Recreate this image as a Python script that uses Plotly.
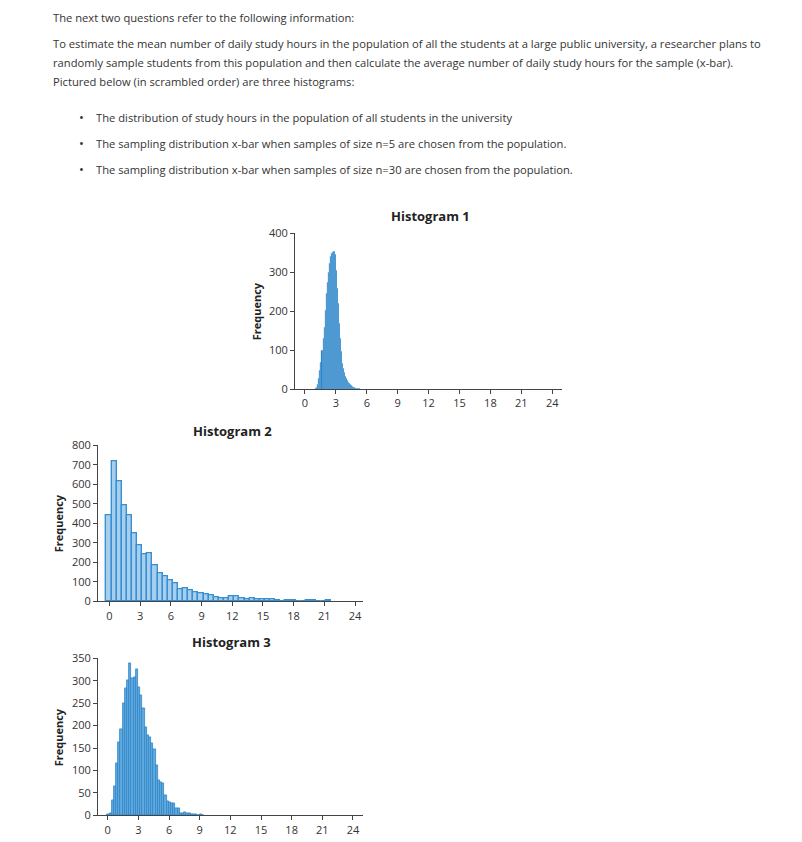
import numpy as np
import plotly.graph_objects as go

# page geometry: body margin offsets the figure; the photo is rescaled vertically
OFF_X = 8
OFF_Y = 15.0
SCALE_Y = 0.982
W, H = 786, 836

# ---------------- data ----------------
x_ticks = [0, 3, 6, 9, 12, 15, 18, 21, 24]

# Histogram 1 (narrow, n=30 sampling distribution)
h1_bin_start = 1.0
h1_bin_width = 0.1
h1_counts = [2, 5, 12, 28, 48, 70, 100, 130, 160, 203, 245, 275, 300, 322, 340,
             350, 352, 355, 354, 345, 305, 260, 220, 170, 130, 98, 66, 55, 44, 34,
             29, 24, 19, 15, 12, 10, 8, 6, 5, 3, 3, 2, 2, 1, 1]
h1_yticks = [0, 100, 200, 300, 400]

# Histogram 2 (population, right skewed)
h2_bin_start = -0.3
h2_bin_width = 0.5
h2_counts = [439, 720, 614, 492, 443, 347, 285, 241, 244, 185, 145, 128, 108, 91,
             62, 67, 58, 46, 43, 36, 32, 22, 17, 15, 24, 24, 14, 12, 15, 10, 9, 9,
             8, 5, 2, 3, 3, 1, 0, 3, 3, 1, 1, 3]
h2_yticks = [0, 100, 200, 300, 400, 500, 600, 700, 800]

# Histogram 3 (n=5 sampling distribution)
h3_bin_start = -0.04
h3_bin_width = 0.215
h3_counts = [2, 4, 33, 65, 115, 162, 191, 249, 284, 301, 339, 305, 307, 325, 285,
             267, 238, 197, 179, 173, 160, 147, 112, 78, 74, 71, 45, 32, 28, 27,
             26, 15, 15, 5, 4, 7, 4, 4, 3, 3, 2, 1, 2, 1]
h3_yticks = [0, 50, 100, 150, 200, 250, 300, 350]

intro_lines = [
    "The next two questions refer to the following information:",
    "To estimate the mean number of daily study hours in the population of all the students at a large public university, a researcher plans to",
    "randomly sample students from this population and then calculate the average number of daily study hours for the sample (x-bar).",
    "Pictured below (in scrambled order) are three histograms:",
]
bullets = [
    "The distribution of study hours in the population of all students in the university",
    "The sampling distribution x-bar when samples of size n=5 are chosen from the population.",
    "The sampling distribution x-bar when samples of size n=30 are chosen from the population.",
]
titles = ["Histogram 1", "Histogram 2", "Histogram 3"]

# ---------------- figure ----------------
def px_x(p):
    return (p - OFF_X) / W

def px_y(p):
    return 1 - (p / SCALE_Y - OFF_Y) / H

def centers(start, width, counts):
    return start + width * (np.arange(len(counts)) + 0.5)

fig = go.Figure()

fig.add_trace(go.Bar(
    x=centers(h1_bin_start, h1_bin_width, h1_counts), y=h1_counts, width=h1_bin_width,
    marker=dict(color="#2783cb", line=dict(color="rgba(255,255,255,0.25)", width=0.25)),
    xaxis="x", yaxis="y", showlegend=False, hoverinfo="x+y"))

fig.add_trace(go.Bar(
    x=centers(h2_bin_start, h2_bin_width, h2_counts), y=h2_counts, width=h2_bin_width,
    marker=dict(color="#a6cfee", line=dict(color="#3a8fd2", width=1.4)),
    xaxis="x2", yaxis="y2", showlegend=False, hoverinfo="x+y"))

fig.add_trace(go.Bar(
    x=centers(h3_bin_start, h3_bin_width, h3_counts), y=h3_counts, width=h3_bin_width,
    marker=dict(color="#62a9de", line=dict(color="#2f86c8", width=0.8)),
    xaxis="x3", yaxis="y3", showlegend=False, hoverinfo="x+y"))

axis_common = dict(showline=True, linecolor="#444", linewidth=1, ticks="outside",
                   ticklen=4, tickcolor="#444", showgrid=False, zeroline=False,
                   tickfont=dict(family="Open Sans", size=11, color="#333"))

fig.update_layout(
    width=W, height=H, margin=dict(l=0, r=0, t=0, b=0),
    paper_bgcolor="white", plot_bgcolor="white", bargap=0,
    xaxis=dict(domain=[px_x(295), px_x(562)], range=[-0.97, 24.95], anchor="y",
               tickvals=x_ticks, **axis_common),
    yaxis=dict(domain=[px_y(388), px_y(232)], range=[0, 400], anchor="x",
               tickvals=h1_yticks, **axis_common),
    xaxis2=dict(domain=[px_x(98), px_x(363)], range=[-1.12, 24.78], anchor="y2",
                tickvals=x_ticks, **axis_common),
    yaxis2=dict(domain=[px_y(600), px_y(444)], range=[0, 800], anchor="x2",
                tickvals=h2_yticks, **axis_common),
    xaxis3=dict(domain=[px_x(98), px_x(363)], range=[-0.95, 24.98], anchor="y3",
                tickvals=x_ticks, **axis_common),
    yaxis3=dict(domain=[px_y(814), px_y(657)], range=[0, 350], anchor="x3",
                tickvals=h3_yticks, **axis_common),
)

anns = []
text_font = dict(family="Open Sans", size=11.2, color="#333")
intro_y = [16, 42, 61, 80]
for t, yy in zip(intro_lines, intro_y):
    anns.append(dict(text=t, x=px_x(51), y=px_y(yy), xref="paper", yref="paper",
                     xanchor="left", yanchor="middle", showarrow=False, font=text_font))
bullet_y = [116, 142, 168]
for t, yy in zip(bullets, bullet_y):
    anns.append(dict(text="•", x=px_x(81), y=px_y(yy), xref="paper", yref="paper",
                     xanchor="center", yanchor="middle", showarrow=False,
                     font=dict(family="Open Sans", size=13, color="#333")))
    anns.append(dict(text=t, x=px_x(94), y=px_y(yy), xref="paper", yref="paper",
                     xanchor="left", yanchor="middle", showarrow=False, font=text_font))

title_pos = [(430, 215), (232, 430), (231, 641)]
for t, (xx, yy) in zip(titles, title_pos):
    anns.append(dict(text="<b>" + t + "</b>", x=px_x(xx), y=px_y(yy), xref="paper",
                     yref="paper", xanchor="center", yanchor="middle", showarrow=False,
                     font=dict(family="Open Sans", size=13, color="#222")))

freq_pos = [(256, 310), (58, 522), (58, 736)]
for xx, yy in freq_pos:
    anns.append(dict(text="<b>Frequency</b>", x=px_x(xx), y=px_y(yy), xref="paper",
                     yref="paper", xanchor="center", yanchor="middle", showarrow=False,
                     textangle=-90, font=dict(family="Open Sans", size=11, color="#222")))

fig.update_layout(annotations=anns)
fig.write_html("out.html")
